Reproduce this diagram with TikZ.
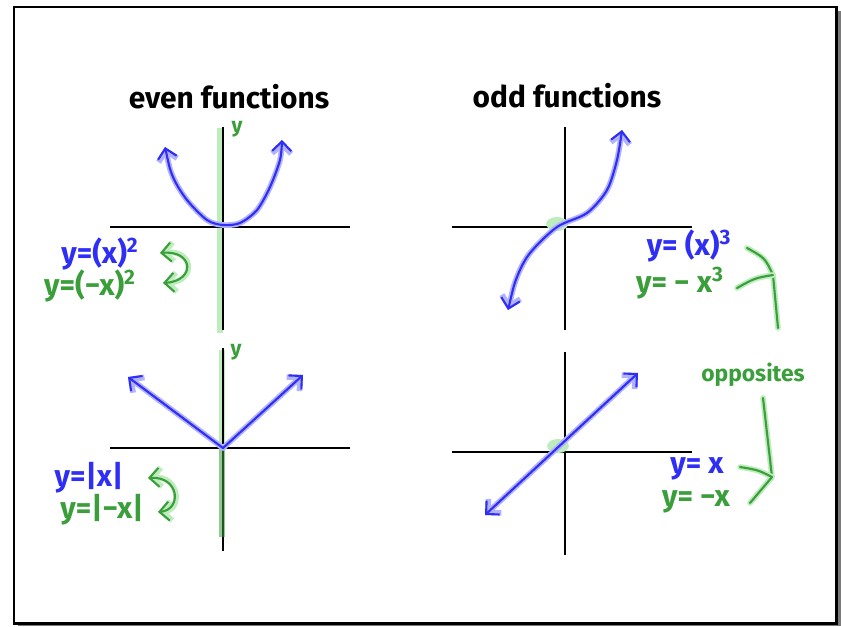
\documentclass[tikz,border=0pt]{standalone}
\usepackage{fontspec}
\setmainfont{Fira Sans}
\usetikzlibrary{arrows.meta}
\definecolor{cblue}{HTML}{2E2EF5}
\definecolor{cbluehalo}{HTML}{B2B2FF}
\definecolor{cgreen}{HTML}{3A9E3A}
\definecolor{cgreenhalo}{HTML}{BDEDBD}
\definecolor{cgrey}{HTML}{7A7A7A}
\tikzset{
  every picture/.style={x=0.02cm, y=-0.02cm},
  >={Straight Barb[length=1.9mm, width=3.8mm]},
  axis/.style={draw=black, line width=1.6pt},
  pen/.style={draw=#1, line width=1.2pt, line cap=round, line join=round,
    preaction={draw=#1halo, line width=3.2pt, line cap=round, line join=round}},
  pen/.default=cblue,
  hilite/.style={draw=cgreenhalo, line width=3.2pt},
  spot/.style={fill=cgreenhalo, draw=none},
  title/.style={font=\bfseries\fontsize{17}{20}\selectfont, inner sep=1pt},
  hand/.style={text=#1, font=\bfseries\fontsize{17}{19}\selectfont, inner sep=0pt},
  hand/.default=cblue,
  axisname/.style={text=cgreen, font=\bfseries\fontsize{12}{14}\selectfont, inner sep=0pt},
  note/.style={text=cgreen, font=\bfseries\fontsize{13}{15}\selectfont, inner sep=0pt},
}

\begin{document}
\begin{tikzpicture}
  \useasboundingbox (0,0) rectangle (841,626);
  % frame with shadow
  \fill[cgrey] (18,11) rectangle (841,626);
  \draw[line width=1.7pt, fill=white] (14,7) rectangle (836,623);
  \node[title] (even) at (229,97) {even functions};
  \node[title] (odd) at (567,96) {odd functions};
  % highlights under the axes
  \draw[hilite] (220,128) -- (220,333);
  \draw[hilite] (222,350) -- (222,448);
  \foreach \ox/\oy in {223/227, 565/227, 223/448, 565/452} {
    \draw[axis] (\ox-113,\oy) -- (\ox+127,\oy);
    \draw[axis] (\ox,\oy-100) -- (\ox,\oy+103);
  }
  \draw[hilite, draw=cgreen, opacity=0.55] (222,448) -- (222,537);
  \fill[spot] (557,224) ellipse [x radius=6.2pt, y radius=4pt];
  \fill[spot] (558,446) ellipse [x radius=6.2pt, y radius=4pt];
  \node[axisname] (ya) at (237,129) {y};
  \node[axisname] (yb) at (236,352) {y};
  % even: parabola and V
  \draw[pen, <->] plot[smooth] coordinates {(165,147) (173,177) (187,200) (207,220) (223,225)
    (240,223) (257,210) (270,187) (280,160) (282,140)};
  \draw[pen, <->] (128,377) -- (223,448) -- (303,375);
  % odd: cubic and line
  \draw[pen, <->] plot[smooth] coordinates {(508,310) (517,277) (530,253) (557,227) (587,213)
    (607,190) (617,160) (622,130)};
  \draw[pen, <->] (485,515) -- (638,373);
  % labels
  \node[hand] (sq) at (100,254) {y=(x)\textsuperscript{2}};
  \node[hand=cgreen] (sqm) at (90,286) {y=(−x)\textsuperscript{2}};
  \draw[pen=cgreen, <->] (160,253) .. controls (194,250) and (196,281) .. (163,283);
  \node[hand] (ab) at (89,478) {y=|x|};
  \node[hand=cgreen] (abm) at (102,510) {y=|−x|};
  \draw[pen=cgreen, <->] (148,478) .. controls (180,476) and (182,510) .. (158,512);
  \node[hand] (cu) at (689,246) {y= (x)\textsuperscript{3}};
  \node[hand=cgreen] (cum) at (680,283) {y= − x\textsuperscript{3}};
  \node[hand] (li) at (697,469) {y= x};
  \node[hand=cgreen] (lim) at (696,502) {y= −x};
  \node[note] (opp) at (753,375) {opposites};
  % brackets
  \coordinate (j1) at (773,275);
  \coordinate (j2) at (772,477);
  \draw[pen=cgreen] (747,248) .. controls (765,258) .. (j1) -- (778,328);
  \draw[pen=cgreen] (737,288) .. controls (755,278) .. (j1);
  \draw[pen=cgreen] (763,398) -- (j2);
  \draw[pen=cgreen] (740,467) .. controls (758,470) .. (j2) -- (750,503);
\end{tikzpicture}
\end{document}
